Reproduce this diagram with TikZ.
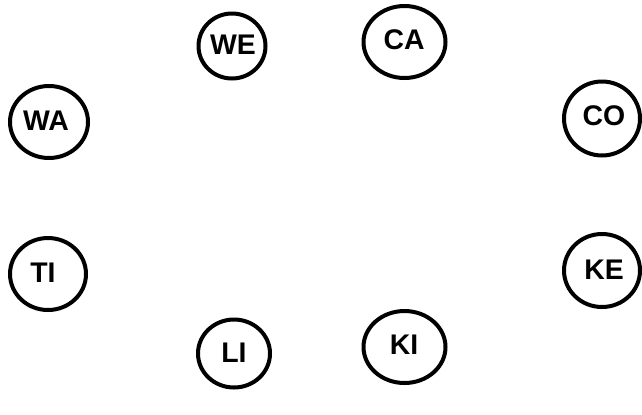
\documentclass[tikz,border=0pt]{standalone}
\usepackage{fontspec}
\setmainfont{Liberation Sans}
\usetikzlibrary{shapes.geometric}
\tikzset{
  ring/.style={draw=black, line width=4bp, ellipse, inner sep=0pt},
  lbl/.style={font=\fontsize{28.5}{30}\selectfont\bfseries, inner sep=0pt}
}
\begin{document}
\begin{tikzpicture}[x=1bp,y=-1bp]
\useasboundingbox (0,0) rectangle (642,414);
\node[ring, minimum width=67bp, minimum height=65bp] (WE) at (232,46) {};
\node[lbl] (WEt) at (233,45) {WE};
\node[ring, minimum width=82bp, minimum height=72bp] (CA) at (404.5,42) {};
\node[lbl] (CAt) at (404,40) {CA};
\node[ring, minimum width=78bp, minimum height=72bp] (WA) at (49,122) {};
\node[lbl] (WAt) at (46,121) {WA};
\node[ring, minimum width=76bp, minimum height=74bp] (CO) at (602,118.5) {};
\node[lbl] (COt) at (604,116) {CO};
\node[ring, minimum width=76bp, minimum height=72bp] (TI) at (48,274) {};
\node[lbl] (TIt) at (43,273) {TI};
\node[ring, minimum width=76bp, minimum height=73bp] (KE) at (602,270.5) {};
\node[lbl] (KEt) at (604,270) {KE};
\node[ring, minimum width=72bp, minimum height=68bp] (LI) at (234,353.5) {};
\node[lbl] (LIt) at (234,353) {LI};
\node[ring, minimum width=82bp, minimum height=72bp] (KI) at (404.5,347) {};
\node[lbl] (KIt) at (404,345) {KI};
\end{tikzpicture}
\end{document}
